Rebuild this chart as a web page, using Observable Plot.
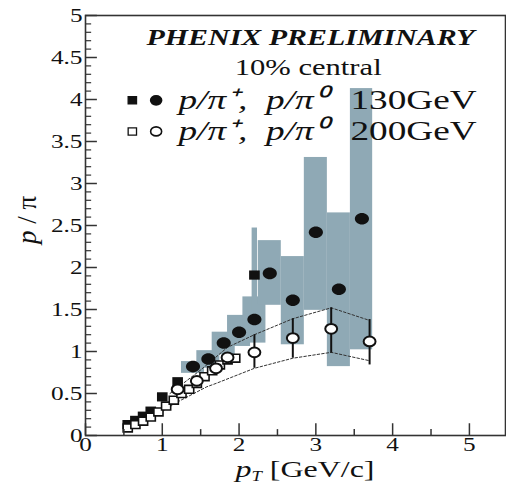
<!DOCTYPE html>
<html>
<head>
<meta charset="utf-8">
<script src="https://cdn.jsdelivr.net/npm/d3@7"></script>
<script src="https://cdn.jsdelivr.net/npm/@observablehq/plot@0.6"></script>
<style>
  body { margin: 0; background: #fff; }
  #chart svg { display: block; }
  #chart svg text { font-family: "Liberation Serif", "Times New Roman", serif; }
</style>
</head>
<body>
<div id="chart"></div>
<script>
// p/π ratio versus transverse momentum, 10% most central collisions

// 130 GeV, p/π0 (filled circles)
const pi0_130_pt    = [1.4, 1.6, 1.8, 2.0, 2.2, 2.4, 2.7, 3.0, 3.3, 3.6];
const pi0_130_ratio = [0.82, 0.91, 1.10, 1.23, 1.38, 1.93, 1.61, 2.42, 1.74, 2.58];

// 130 GeV, systematic boxes (shaded)
const sys130_x1 = [1.25, 1.45, 1.65, 1.85, 2.05, 2.17, 2.25, 2.55, 2.85, 3.15, 3.45];
const sys130_x2 = [1.55, 1.75, 1.95, 2.15, 2.35, 2.24, 2.55, 2.85, 3.15, 3.45, 3.74];
const sys130_lo = [0.74, 0.80, 0.96, 1.06, 1.10, 1.40, 1.55, 1.08, 1.49, 0.82, 1.02];
const sys130_hi = [0.88, 1.01, 1.23, 1.43, 1.65, 2.47, 2.32, 2.13, 3.31, 2.65, 4.13];

// 130 GeV, p/π+ (filled squares)
const pip_130_pt    = [0.55, 0.65, 0.75, 0.85, 1.0, 1.2, 2.2];
const pip_130_ratio = [0.13, 0.18, 0.23, 0.29, 0.46, 0.64, 1.91];

// 200 GeV, p/π+ (open squares)
const pip_200_pt    = [0.55, 0.65, 0.75, 0.85, 0.95, 1.05, 1.15, 1.25, 1.35, 1.45, 1.55, 1.65, 1.75, 1.85, 1.95];
const pip_200_ratio = [0.09, 0.13, 0.17, 0.22, 0.28, 0.35, 0.42, 0.50, 0.55, 0.62, 0.70, 0.77, 0.84, 0.90, 0.92];

// 200 GeV, p/π0 (open circles) with error bars
const pi0_200_pt    = [1.2, 1.45, 1.7, 1.85, 2.2, 2.7, 3.2, 3.7];
const pi0_200_ratio = [0.55, 0.65, 0.80, 0.93, 0.99, 1.16, 1.27, 1.12];
const err200_pt = [2.2, 2.7, 3.2, 3.7];
const err200_lo = [0.80, 0.92, 0.98, 0.84];
const err200_hi = [1.20, 1.39, 1.52, 1.38];

// 200 GeV systematic band edges (dashed)
const band_up_pt  = [1.1, 1.5, 1.85, 2.2, 2.7, 3.2, 3.7];
const band_up_val = [0.50, 0.78, 1.05, 1.20, 1.39, 1.52, 1.37];
const band_lo_pt  = [0.85, 1.2, 1.58, 1.7, 2.2, 2.7, 3.2, 3.7];
const band_lo_val = [0.20, 0.40, 0.58, 0.62, 0.80, 0.92, 0.99, 0.89];

// axis ticks
const xMajor = [0, 1, 2, 3, 4, 5];
const xMinor = [0.5, 1.5, 2.5, 3.5, 4.5];
const yMajor = [0, 0.5, 1, 1.5, 2, 2.5, 3, 3.5, 4, 4.5, 5];
const yMinor = d3.range(1, 50).map(i => i / 10).filter(v => Math.abs(v * 2 - Math.round(v * 2)) > 1e-6);

// legend
const legendLabels = ["p/π\u207A,  p/π\u2070", "p/π\u207A,  p/π\u2070"];
const legendEnergy = ["130GeV", "200GeV"];
const legendRowY = [3.99, 3.62];

const title = "PHENIX PRELIMINARY";
const subtitle = "10% central";

// helpers
const zip2 = (xs, ys) => xs.map((x, i) => ({x, y: ys[i]}));
const BOX = "#8fa9b5";
const INK = "#111";

// slightly flattened markers
const ellipse = {
  draw(ctx, size) {
    const r = Math.sqrt(size / Math.PI), a = r * 1.1, b = r * 0.9, k = 0.5523;
    ctx.moveTo(a, 0);
    ctx.bezierCurveTo(a, k * b, k * a, b, 0, b);
    ctx.bezierCurveTo(-k * a, b, -a, k * b, -a, 0);
    ctx.bezierCurveTo(-a, -k * b, -k * a, -b, 0, -b);
    ctx.bezierCurveTo(k * a, -b, a, -k * b, a, 0);
    ctx.closePath();
  }
};
const box = {
  draw(ctx, size) {
    const r = Math.sqrt(size / Math.PI), a = r * 0.95, b = r * 0.82;
    ctx.rect(-a, -b, 2 * a, 2 * b);
  }
};

const sysBoxes = sys130_x1.map((x1, i) => ({x1, x2: sys130_x2[i], lo: sys130_lo[i], hi: sys130_hi[i]}));
const err200 = err200_pt.map((pt, i) => ({pt, lo: err200_lo[i], hi: err200_hi[i]}));
const legend = legendRowY.map((y, i) => ({y, label: legendLabels[i], energy: legendEnergy[i], filled: i === 0}));

const serif = "Liberation Serif";

const chart = Plot.plot({
  width: 506,
  height: 483,
  marginLeft: 85,
  marginRight: 1,
  marginTop: 15,
  marginBottom: 48,
  x: {domain: [0, 5.47]},
  y: {domain: [0, 5]},
  style: {fontFamily: serif, fontSize: "19px", color: INK, background: "white"},
  marks: [
    Plot.rect(sysBoxes, {x1: "x1", x2: "x2", y1: "lo", y2: "hi", fill: BOX}),
    Plot.line(zip2(band_up_pt, band_up_val), {x: "x", y: "y", stroke: "#333", strokeWidth: 1, strokeDasharray: "2.5,2"}),
    Plot.line(zip2(band_lo_pt, band_lo_val), {x: "x", y: "y", stroke: "#333", strokeWidth: 1, strokeDasharray: "2.5,2"}),
    Plot.ruleX(err200, {x: "pt", y1: "lo", y2: "hi", stroke: INK, strokeWidth: 2}),
    Plot.dot(zip2(pip_130_pt, pip_130_ratio), {x: "x", y: "y", symbol: box, r: 5.6, fill: INK, stroke: "none"}),
    Plot.dot(zip2(pip_200_pt, pip_200_ratio), {x: "x", y: "y", symbol: box, r: 4.8, fill: "white", stroke: INK, strokeWidth: 1.6}),
    Plot.dot(zip2(pi0_200_pt, pi0_200_ratio), {x: "x", y: "y", symbol: ellipse, r: 5.4, fill: "white", stroke: INK, strokeWidth: 2}),
    Plot.dot(zip2(pi0_130_pt, pi0_130_ratio), {x: "x", y: "y", symbol: ellipse, r: 6.4, fill: INK, stroke: "none"}),

    // inward ticks
    Plot.ruleX(xMajor, {x: d => d, y1: 0, y2: 0.14, stroke: "#333", strokeWidth: 1.5}),
    Plot.ruleX(xMinor, {x: d => d, y1: 0, y2: 0.07, stroke: "#333", strokeWidth: 1.5}),
    Plot.ruleY(yMajor, {y: d => d, x1: 0, x2: 0.155, stroke: "#333", strokeWidth: 1.5}),
    Plot.ruleY(yMinor, {y: d => d, x1: 0, x2: 0.08, stroke: "#333", strokeWidth: 1.2}),
    Plot.axisX({ticks: xMajor, tickSize: 0, tickPadding: 2, tickFormat: d => String(d), label: null}),
    Plot.axisY({ticks: yMajor, tickSize: 0, tickPadding: 3, tickFormat: d => String(d), label: null}),
    Plot.frame({stroke: "#333", strokeWidth: 1.6}),

    // header text
    Plot.text([title], {x: 2.93, y: 4.74, text: d => d, fontSize: 22.5, fontWeight: "bold", fontStyle: "italic", textAnchor: "middle"}),
    Plot.text([subtitle], {x: 2.90, y: 4.38, text: d => d, fontSize: 23, textAnchor: "middle"}),

    // legend
    Plot.dot(legend, {x: 0.61, y: "y", symbol: box, r: 4.4, fill: d => d.filled ? INK : "white", stroke: INK, strokeWidth: 1.3}),
    Plot.dot(legend, {x: 0.92, y: "y", symbol: ellipse, r: 5, fill: d => d.filled ? INK : "white", stroke: INK, strokeWidth: 1.6}),
    Plot.text(legend, {x: 1.21, y: "y", text: "label", fontSize: 28, fontStyle: "italic", textAnchor: "start"}),
    Plot.text(legend, {x: 3.45, y: "y", text: "energy", fontSize: 28, textAnchor: "start"})
  ]
});

document.getElementById("chart").append(chart);

const svg = d3.select(chart);

// axis titles with mixed italic / upright parts
const xl = svg.append("text")
  .attr("x", 305).attr("y", 477)
  .attr("text-anchor", "middle")
  .attr("font-size", 24).attr("fill", INK);
xl.append("tspan").attr("font-style", "italic").text("p");
xl.append("tspan").attr("font-style", "italic").attr("font-size", 14).attr("dy", 4).text("T");
xl.append("tspan").attr("dy", -4).text(" [GeV/c]");

const yl = svg.append("text")
  .attr("transform", "translate(36,220) rotate(-90)")
  .attr("text-anchor", "middle")
  .attr("font-size", 27).attr("fill", INK)
  .attr("class", "nostretch");
yl.append("tspan").attr("font-style", "italic").text("p");
yl.append("tspan").text(" / π");

// widen horizontal text the way the original typesetting does
const STRETCH = 1.33;
chart.querySelectorAll("text").forEach(t => {
  t.setAttribute("font-family", serif);
  if (t.classList.contains("nostretch")) return;
  const L = t.getComputedTextLength();
  if (L > 0) {
    t.setAttribute("textLength", (L * STRETCH).toFixed(1));
    t.setAttribute("lengthAdjust", "spacingAndGlyphs");
  }
});
</script>
</body>
</html>
